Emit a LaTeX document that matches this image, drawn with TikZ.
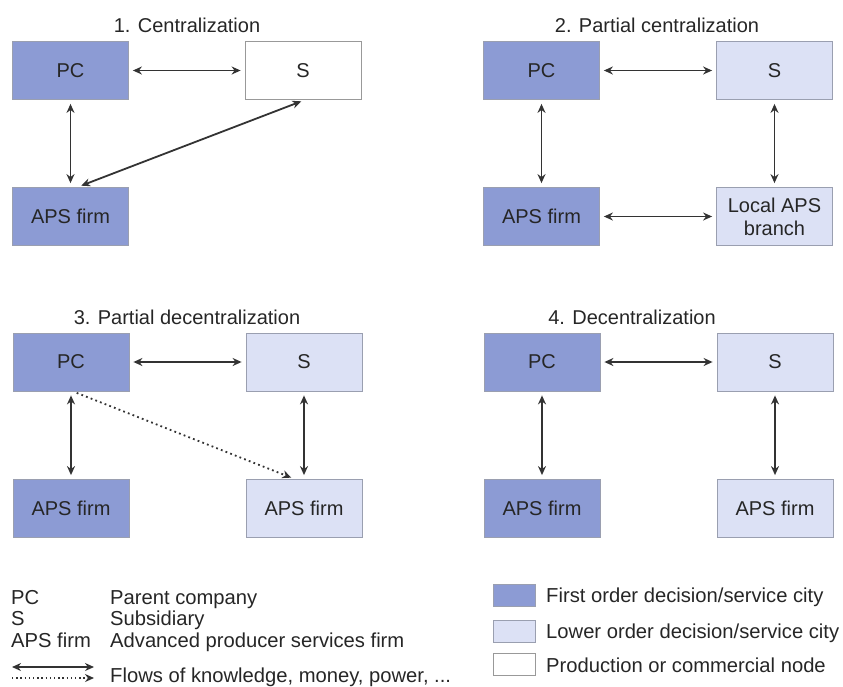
\documentclass[tikz,border=0pt]{standalone}
\usepackage{fontspec}
\setmainfont{Liberation Sans}
\usetikzlibrary{arrows.meta}
\definecolor{firstorder}{HTML}{8C9BD4}
\definecolor{lowerorder}{HTML}{DCE1F5}
\definecolor{boxline}{HTML}{9A9FB0}
\definecolor{inktext}{HTML}{262626}
\definecolor{flowline}{HTML}{333333}
\tikzset{
  city/.style={draw=boxline, line width=0.8pt, minimum width=116pt, minimum height=58pt,
    inner sep=0pt, align=center, text=inktext, font=\fontsize{20}{23}\selectfont},
  firstcity/.style={city, fill=firstorder},
  lowercity/.style={city, fill=lowerorder},
  prodnode/.style={city, fill=white, draw=gray!80},
  paneltitle/.style={text=inktext, font=\fontsize{20}{24}\selectfont, inner sep=0pt},
  legtext/.style={text=inktext, font=\fontsize{20.2}{24}\selectfont, inner sep=0pt, anchor=base west},
  flow/.style={draw=flowline, line width=1.8pt, {Stealth[length=9pt,width=8pt]}-{Stealth[length=9pt,width=8pt]},
    shorten >=4pt, shorten <=4pt},
  dotflow/.style={draw=flowline, line width=1.8pt, dash pattern=on 1.8pt off 3.2pt, -{Stealth[length=9pt,width=8pt]},
    shorten >=4pt, shorten <=4pt},
  swatch/.style={draw=boxline, line width=0.8pt, minimum width=42pt, minimum height=22pt, inner sep=0pt}
}
\begin{document}
\begin{tikzpicture}[x=1pt, y=-1pt]
\useasboundingbox (0,0) rectangle (843,686);

% 1. Centralization
\node[paneltitle] (t1) at (187,25) {1. Centralization};
\node[firstcity] (pc1) at (70.5,70.5) {PC};
\node[prodnode] (s1) at (303,70.5) {S};
\node[firstcity] (aps1) at (70.5,216.5) {APS firm};
\draw[flow] (pc1.east) -- (s1.west);
\draw[flow] (pc1.south) -- (aps1.north);
\draw[flow] ([xshift=2pt]s1.south) -- ([xshift=7pt]aps1.north);

% 2. Partial centralization
\node[paneltitle] (t2) at (657,25) {2. Partial centralization};
\node[firstcity] (pc2) at (541.5,70.5) {PC};
\node[lowercity] (s2) at (774.5,70.5) {S};
\node[firstcity] (aps2) at (541.5,216.5) {APS firm};
\node[lowercity] (loc2) at (774.5,216.5) {Local APS\\branch};
\draw[flow] (pc2.east) -- (s2.west);
\draw[flow] (pc2.south) -- (aps2.north);
\draw[flow] (s2.south) -- (loc2.north);
\draw[flow] (aps2.east) -- (loc2.west);

% 3. Partial decentralization
\node[paneltitle] (t3) at (187,317) {3. Partial decentralization};
\node[firstcity] (pc3) at (71,362) {PC};
\node[lowercity] (s3) at (304,362) {S};
\node[firstcity] (apsa3) at (71,508.5) {APS firm};
\node[lowercity] (apsb3) at (304,508.5) {APS firm};
\draw[flow] (pc3.east) -- (s3.west);
\draw[flow] (pc3.south) -- (apsa3.north);
\draw[flow] (s3.south) -- (apsb3.north);
\draw[dotflow] ([xshift=2pt]pc3.south) -- ([xshift=-9pt]apsb3.north);

% 4. Decentralization
\node[paneltitle] (t4) at (632,317) {4. Decentralization};
\node[firstcity] (pc4) at (542,362) {PC};
\node[lowercity] (s4) at (775,362) {S};
\node[firstcity] (apsa4) at (542,508.5) {APS firm};
\node[lowercity] (apsb4) at (775,508.5) {APS firm};
\draw[flow] (pc4.east) -- (s4.west);
\draw[flow] (pc4.south) -- (apsa4.north);
\draw[flow] (s4.south) -- (apsb4.north);

% Legend: abbreviations
\node[legtext] (kpc) at (11,604) {PC};
\node[legtext] (vpc) at (110,604) {Parent company};
\node[legtext] (ks) at (11,625) {S};
\node[legtext] (vs) at (110,625) {Subsidiary};
\node[legtext] (kaps) at (11,647) {APS firm};
\node[legtext] (vaps) at (110,647) {Advanced producer services firm};
\coordinate (fa) at (12,667);
\coordinate (fb) at (94,667);
\coordinate (da) at (12,678);
\coordinate (db) at (94,678);
\draw[flow, shorten >=0pt, shorten <=0pt] (fa) -- (fb);
\draw[dotflow, line width=1.4pt, dash pattern=on 1.4pt off 2.8pt, shorten >=0pt, shorten <=0pt] (da) -- (db);
\node[legtext] (vflow) at (110,682) {Flows of knowledge, money, power, ...};

% Legend: city types
\node[swatch, fill=firstorder] (sw1) at (514,595.5) {};
\node[legtext] (l1) at (546,602) {First order decision/service city};
\node[swatch, fill=lowerorder] (sw2) at (514,631) {};
\node[legtext] (l2) at (546,638) {Lower order decision/service city};
\node[swatch, fill=white, draw=gray!80] (sw3) at (514,664) {};
\node[legtext] (l3) at (546,672) {Production or commercial node};
\end{tikzpicture}
\end{document}
